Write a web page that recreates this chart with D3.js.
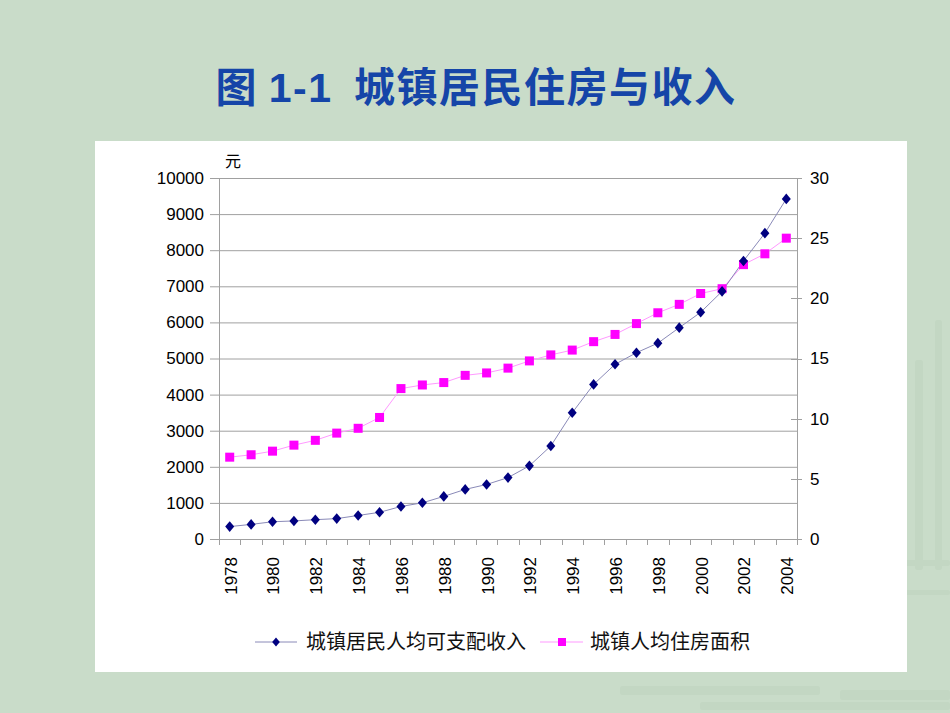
<!DOCTYPE html>
<html><head><meta charset="utf-8">
<script src="https://cdn.jsdelivr.net/npm/d3@7"></script>
<style>
html,body{margin:0;padding:0;background:#c9dcc9;}
svg{display:block;}
</style></head>
<body>
<svg id="c" width="950" height="713"></svg>
<script>
const years = d3.range(1978, 2005).map(String);
const income = [343.4,405.0,477.6,500.4,535.3,564.6,652.1,739.1,900.9,1002.1,1180.2,1373.9,1510.2,1700.6,2026.6,2577.4,3496.2,4283.0,4838.9,5160.3,5425.1,5854.0,6280.0,6859.6,7702.8,8472.2,9421.6];
const housing = [6.8,7.0,7.3,7.8,8.2,8.8,9.2,10.1,12.5,12.8,13.0,13.6,13.8,14.2,14.8,15.3,15.7,16.4,17.0,17.9,18.8,19.5,20.4,20.8,22.8,23.7,25.0];
const leftTicks = d3.range(0, 10001, 1000);
const rightTicks = [0,5,10,15,20,25,30];
const xLabels = years.filter((d,i)=>i%2===0);
const seriesNames = ["城镇居民人均可支配收入","城镇人均住房面积"];
const titleText = ["图 ","1-1","  城镇居民住房与收入"];
const unitLabel = "元";

const svg = d3.select("#c");
const numFont = "'Liberation Sans', Arial, sans-serif";
const cjkFont = "'Noto Sans CJK SC', sans-serif";

// faint background texture bottom-right
const tex = svg.append("g").attr("fill","#bcd1bc").attr("opacity",0.45);
[[822,330,10,190],[842,300,8,250],[866,340,12,210],[890,290,9,270],[915,360,8,210],[935,320,7,250],
 [840,690,110,10],[620,686,200,9],[700,702,250,8],[868,560,82,6],[868,590,82,5]].forEach(r=>{
  tex.append("rect").attr("x",r[0]).attr("y",r[1]).attr("width",r[2]).attr("height",r[3]).attr("rx",3);
});

// title
const t = svg.append("text").attr("x",476).attr("y",102).attr("text-anchor","middle")
  .attr("fill","#1545a8").attr("font-weight","bold").attr("font-size",41).attr("letter-spacing",1.5);
t.append("tspan").attr("font-family",cjkFont).text(titleText[0]);
t.append("tspan").attr("font-family",numFont).text(titleText[1]);
t.append("tspan").attr("font-family",cjkFont).attr("xml:space","preserve").style("white-space","pre").text(titleText[2]);

// white chart box
svg.append("rect").attr("x",95).attr("y",141).attr("width",812).attr("height",531).attr("fill","#ffffff");

const L=219, R=797, T=178, B=539;
const x = d3.scaleBand().domain(years).range([L,R]).padding(0);
const yL = d3.scaleLinear().domain([0,10000]).range([B,T]);
const yR = d3.scaleLinear().domain([0,30]).range([B,T]);
const cx = d => x(d)+x.bandwidth()/2;
const grey = "#a0a0a0";

// gridlines + left ticks
const g = svg.append("g");
g.selectAll(".gl").data(leftTicks).enter().append("line")
  .attr("x1",L-9).attr("x2",R).attr("y1",d=>yL(d)+0.5).attr("y2",d=>yL(d)+0.5)
  .attr("stroke",grey).attr("stroke-width",1);
g.selectAll(".lt").data(leftTicks).enter().append("text")
  .attr("x",204).attr("y",d=>yL(d)).attr("dy","0.35em").attr("text-anchor","end")
  .attr("font-family",numFont).attr("font-size",17).attr("fill","#000").text(d=>d);
// left axis
g.append("line").attr("x1",L+0.5).attr("x2",L+0.5).attr("y1",T).attr("y2",B).attr("stroke",grey);
// right axis
g.append("line").attr("x1",R+0.5).attr("x2",R+0.5).attr("y1",T).attr("y2",B).attr("stroke",grey);
g.selectAll(".rtk").data(rightTicks).enter().append("line")
  .attr("x1",R-6).attr("x2",R+5).attr("y1",d=>Math.round(yR(d))+0.5).attr("y2",d=>Math.round(yR(d))+0.5)
  .attr("stroke",grey);
g.selectAll(".rt").data(rightTicks).enter().append("text")
  .attr("x",810).attr("y",d=>yR(d)).attr("dy","0.35em").attr("text-anchor","start")
  .attr("font-family",numFont).attr("font-size",17).attr("fill","#000").text(d=>d);
// x ticks at band boundaries
g.selectAll(".xt").data(years.concat(["end"])).enter().append("line")
  .attr("x1",d=>Math.round(d==="end"?R:x(d))+0.5).attr("x2",d=>Math.round(d==="end"?R:x(d))+0.5)
  .attr("y1",B).attr("y2",B+6).attr("stroke",grey);
g.selectAll(".xl").data(xLabels).enter().append("text")
  .attr("transform",d=>`translate(${cx(d)+1},557) rotate(-90)`)
  .attr("text-anchor","end").attr("dy","0.35em")
  .attr("font-family",numFont).attr("font-size",17).attr("fill","#000").text(d=>d);

// unit label
svg.append("text").attr("x",225).attr("y",167).attr("font-family",cjkFont).attr("font-size",16).attr("fill","#000").text(unitLabel);

// lines
const incLine = d3.line().x((d,i)=>cx(years[i])).y(d=>yL(d));
const houLine = d3.line().x((d,i)=>cx(years[i])).y(d=>yR(d));
svg.append("path").attr("d",houLine(housing)).attr("fill","none").attr("stroke","#ff99ff").attr("stroke-width",1);
svg.append("path").attr("d",incLine(income)).attr("fill","none").attr("stroke","#8a8ab8").attr("stroke-width",1);

const diamond = (s)=>`M0,${-s}L${s*0.85},0L0,${s}L${-s*0.85},0Z`;
svg.selectAll(".sq").data(housing).enter().append("rect")
  .attr("x",(d,i)=>cx(years[i])-4.5).attr("y",d=>yR(d)-4.5).attr("width",9).attr("height",9).attr("fill","#ff00ff");
svg.selectAll(".dm").data(income).enter().append("path")
  .attr("transform",(d,i)=>`translate(${cx(years[i])},${yL(d)})`).attr("d",diamond(5.3)).attr("fill","#000080");

// legend
const ly = 642;
const lg = svg.append("g");
lg.append("line").attr("x1",255).attr("x2",297).attr("y1",ly).attr("y2",ly).attr("stroke","#8a8ab8");
lg.append("path").attr("transform",`translate(276,${ly})`).attr("d",diamond(4.5)).attr("fill","#000080");
lg.append("text").attr("x",306).attr("y",ly).attr("dy","0.36em").attr("font-family",cjkFont).attr("font-size",20).attr("fill","#111").text(seriesNames[0]);
lg.append("line").attr("x1",540).attr("x2",583).attr("y1",ly).attr("y2",ly).attr("stroke","#ff99ff");
lg.append("rect").attr("x",558).attr("y",ly-4).attr("width",8).attr("height",8).attr("fill","#ff00ff");
lg.append("text").attr("x",590).attr("y",ly).attr("dy","0.36em").attr("font-family",cjkFont).attr("font-size",20).attr("fill","#111").text(seriesNames[1]);
</script>
</body></html>
